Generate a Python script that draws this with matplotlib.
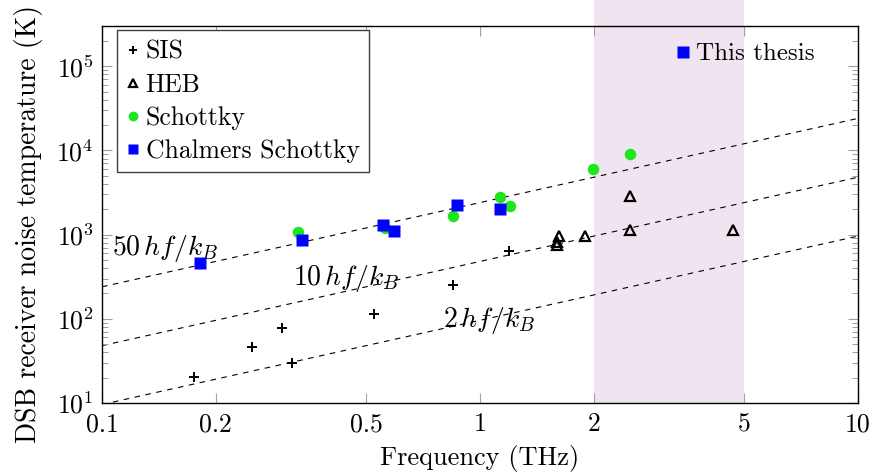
import numpy as np
import matplotlib
matplotlib.use('Agg')
import matplotlib.pyplot as plt
from matplotlib.lines import Line2D
from matplotlib.patches import Rectangle
from matplotlib.ticker import FixedLocator, FixedFormatter, LogLocator, NullFormatter

plt.rcParams['font.family'] = ['cmr10']
plt.rcParams['mathtext.fontset'] = 'cm'
plt.rcParams['axes.formatter.use_mathtext'] = True

# receiver noise temperatures, frequency in THz, temperature in K
sis_f = [0.175, 0.249, 0.299, 0.318, 0.525, 0.847, 1.195]
sis_t = [20.5, 46, 78, 30, 115, 251, 641]

heb_f = [1.62, 1.60, 1.60, 1.90, 2.49, 2.49, 4.68]
heb_t = [957, 748, 812, 975, 2860, 1148, 1148]

schottky_f = [0.329, 0.561, 0.847, 1.13, 1.20, 1.99, 2.49]
schottky_t = [1059, 1191, 1652, 2800, 2187, 5975, 8990]

chalmers_f = [0.182, 0.338, 0.555, 0.592, 0.871, 1.13]
chalmers_t = [454, 874, 1291, 1107, 2275, 2018]

# quantum-limit multiples N*h*f/k_B
h_over_kb = 47.99  # K per THz
multiples = [50, 10, 2]
line_labels = [r'$50\,hf/k_B$', r'$10\,hf/k_B$', r'$2\,hf/k_B$']
label_at = [(0.106, 570), (0.320, 251), (0.797, 80)]

band = (2, 5)

fig = plt.figure(figsize=(8.75, 4.73), dpi=100)
ax = fig.add_axes([0.1166, 0.148, 0.864, 0.797])
ax.set_xscale('log')
ax.set_yscale('log')
ax.set_xlim(0.1, 10)
ax.set_ylim(10, 3e5)

# band shading runs up past the top spine
trans = ax.get_xaxis_transform()
ax.add_patch(Rectangle((band[0], 0), band[1] - band[0], 1.07, transform=trans,
                       facecolor='#f0e4f1', lw=0, zorder=0, clip_on=False))

f = np.logspace(-1, 1, 200)
for n in multiples:
    ax.plot(f, n * h_over_kb * f, ls=(0, (5, 5)), color='black', lw=0.8, zorder=1)
for txt, (x, y) in zip(line_labels, label_at):
    ax.text(x, y, txt, fontsize=20, va='baseline', ha='left', zorder=2)

ax.plot(sis_f, sis_t, ls='none', marker='+', ms=7, mew=1.4, color='black', label='SIS', zorder=3)
ax.plot(heb_f, heb_t, ls='none', marker='^', ms=6.5, mew=1.6, mfc='none', mec='black', label='HEB', zorder=3)
ax.plot(schottky_f, schottky_t, ls='none', marker='o', ms=8.3, color='#1ee61e', mec='none', label='Schottky', zorder=3)
ax.plot(chalmers_f, chalmers_t, ls='none', marker='s', ms=8.4, color='#0000ff', mec='none',
        label='Chalmers Schottky', zorder=4)

leg = ax.legend(loc='upper left', bbox_to_anchor=(0.0194, 0.989), fontsize=18.5, frameon=True, fancybox=False,
                edgecolor='#404040', framealpha=1, handlelength=0.5, handletextpad=0.25, borderpad=0.38,
                labelspacing=0.36, borderaxespad=0, markerscale=0.85)
leg.get_frame().set_linewidth(1.0)
ax.add_artist(leg)

thesis = Line2D([], [], ls='none', marker='s', ms=8.4, color='#0000ff', mec='none')
ax.legend([thesis], ['This thesis'], loc='upper right', bbox_to_anchor=(0.943, 0.955), fontsize=18,
          frameon=False, handlelength=0.5, handletextpad=0.3, borderpad=0, borderaxespad=0)

xt = [0.1, 0.2, 0.5, 1, 2, 5, 10]
ax.xaxis.set_major_locator(FixedLocator(xt))
ax.xaxis.set_major_formatter(FixedFormatter(['0.1', '0.2', '0.5', '1', '2', '5', '10']))
ax.xaxis.set_minor_locator(FixedLocator([]))
ax.yaxis.set_major_locator(LogLocator(base=10, numticks=10))
ax.yaxis.set_minor_locator(LogLocator(base=10, subs=np.arange(2, 10), numticks=10))
ax.yaxis.set_minor_formatter(NullFormatter())

ax.tick_params(which='both', direction='in', top=True, right=True, color='#a0a0a0', labelsize=18.5)
ax.tick_params(axis='x', pad=7)
ax.tick_params(axis='y', pad=6)
ax.tick_params(which='major', length=7, width=0.8)
ax.tick_params(which='minor', length=4.5, width=0.7)
for s in ax.spines.values():
    s.set_linewidth(1.0)

ax.set_xlabel('Frequency (THz)', fontsize=19, labelpad=6)
ax.set_ylabel('DSB receiver noise temperature (K)', fontsize=20)
ax.yaxis.set_label_coords(-0.078, 0.475)

fig.savefig('out.png', dpi=100)
